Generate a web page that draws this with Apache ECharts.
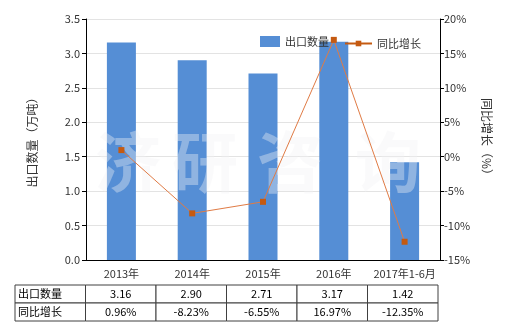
<!DOCTYPE html>
<html>
<head>
<meta charset="utf-8">
<script src="https://cdn.jsdelivr.net/npm/echarts@6/dist/echarts.min.js"></script>
<style>html,body{margin:0;padding:0;background:#fff}#c{width:520px;height:330px}</style>
</head>
<body>
<div id="c"></div>
<script>
var categories = ['2013年', '2014年', '2015年', '2016年', '2017年1-6月'];
var exportQty = [3.16, 2.90, 2.71, 3.17, 1.42];
var yoyGrowth = [0.96, -8.23, -6.55, 16.97, -12.35];
var leftTicks = {min: 0, max: 3.5, interval: 0.5};
var rightTicks = {min: -15, max: 20, interval: 5};
var seriesNames = ['出口数量', '同比增长'];
var leftAxisName = '出口数量（万吨）';
var rightAxisName = '同比增长（%）';
var watermarkChars = ['济', '研', '咨', '询'];

var FONT = '"Noto Sans CJK SC", "Microsoft YaHei", sans-serif';

// table cells: [col, row, text]
var tableCols = [''].concat(categories);
var tableData = [];
tableData.push([0, 0, seriesNames[0]]);
tableData.push([0, 1, seriesNames[1]]);
for (var i = 0; i < categories.length; i++) {
  tableData.push([i + 1, 0, exportQty[i].toFixed(2)]);
  tableData.push([i + 1, 1, yoyGrowth[i].toFixed(2) + '%']);
}

var wmX = [128, 205, 290, 388];
var graphics = watermarkChars.map(function (ch, k) {
  return {
    type: 'text', x: wmX[k], y: 162, z: 3, silent: true,
    style: {text: ch, fontSize: 66, fontWeight: 'bold', align: 'center', verticalAlign: 'middle',
            fill: 'rgba(242,242,244,0.38)', fontFamily: FONT}
  };
});

var chart = echarts.init(document.getElementById('c'), null, {renderer: 'canvas'});
var option = {
  animation: false,
  backgroundColor: '#fff',
  textStyle: {fontFamily: FONT},
  grid: [
    {left: 86, right: 80, top: 19, bottom: 70},
    {left: 15, right: 82, top: 285, height: 36}
  ],
  legend: [
    {
      left: 255, top: 31, itemWidth: 20, itemHeight: 11,
      textStyle: {fontSize: 11, color: '#333', fontFamily: FONT},
      data: [{name: seriesNames[0], icon: 'rect'}]
    },
    {
      left: 339, top: 33, itemWidth: 27, itemHeight: 7,
      textStyle: {fontSize: 11, color: '#333', fontFamily: FONT},
      data: [{name: seriesNames[1], lineStyle: {width: 2, color: '#C55A11'}}]
    }
  ],
  xAxis: [
    {
      type: 'category', gridIndex: 0, data: categories,
      axisLine: {lineStyle: {color: '#000'}},
      axisTick: {alignWithLabel: true, length: 4, lineStyle: {color: '#000'}},
      axisLabel: {color: '#333', fontSize: 11, margin: 8, interval: 0, fontFamily: FONT},
      splitLine: {show: false}
    },
    {
      type: 'category', gridIndex: 1, data: tableCols, show: false
    }
  ],
  yAxis: [
    {
      type: 'value', gridIndex: 0, position: 'left',
      min: leftTicks.min, max: leftTicks.max, interval: leftTicks.interval,
      name: leftAxisName, nameLocation: 'middle', nameRotate: 90, nameGap: 48,
      nameTextStyle: {fontSize: 12, color: '#333', fontFamily: FONT},
      axisLine: {show: true, lineStyle: {color: '#000'}},
      axisTick: {show: true, length: 4, lineStyle: {color: '#000'}},
      axisLabel: {color: '#333', fontSize: 11, margin: 6, formatter: function (v) { return v.toFixed(1); }},
      splitLine: {show: true, lineStyle: {color: '#e3e3e3'}}
    },
    {
      type: 'value', gridIndex: 0, position: 'right',
      min: rightTicks.min, max: rightTicks.max, interval: rightTicks.interval,
      name: rightAxisName, nameLocation: 'middle', nameRotate: -90, nameGap: 40,
      nameTextStyle: {fontSize: 12, color: '#333', fontFamily: FONT},
      axisLine: {show: true, lineStyle: {color: '#000'}},
      axisTick: {show: true, length: 4, lineStyle: {color: '#000'}},
      axisLabel: {color: '#333', fontSize: 11, margin: 4, formatter: function (v) { return v + '%'; }},
      splitLine: {show: false}
    },
    {
      type: 'category', gridIndex: 1, data: ['0', '1'], inverse: true, show: false
    }
  ],
  series: [
    {
      name: seriesNames[0], type: 'bar', xAxisIndex: 0, yAxisIndex: 0,
      data: exportQty, barWidth: 29,
      itemStyle: {color: '#558ED5'}
    },
    {
      name: seriesNames[1], type: 'line', xAxisIndex: 0, yAxisIndex: 1,
      data: yoyGrowth,
      symbol: 'rect', symbolSize: 6,
      lineStyle: {color: '#E07B45', width: 1},
      itemStyle: {color: '#C55A11'},
      z: 5
    },
    {
      type: 'custom', xAxisIndex: 1, yAxisIndex: 2,
      data: tableData,
      silent: true,
      renderItem: function (params, api) {
        var c = api.coord([api.value(0), api.value(1)]);
        var s = api.size([1, 1]);
        var col = api.value(0);
        var txt = tableData[params.dataIndex][2];
        var x0 = c[0] - s[0] / 2, y0 = c[1] - s[1] / 2;
        return {
          type: 'group',
          children: [
            {type: 'rect', shape: {x: x0, y: y0, width: s[0], height: s[1]},
             style: {fill: '#fff', stroke: '#404040', lineWidth: 1}},
            {type: 'text',
             style: {text: txt, x: col === 0 ? x0 + 3 : c[0], y: c[1],
                     align: col === 0 ? 'left' : 'center', verticalAlign: 'middle',
                     fill: '#000', fontSize: 11, fontFamily: FONT}}
          ]
        };
      }
    }
  ],
  graphic: graphics
};
chart.setOption(option);
</script>
</body>
</html>
